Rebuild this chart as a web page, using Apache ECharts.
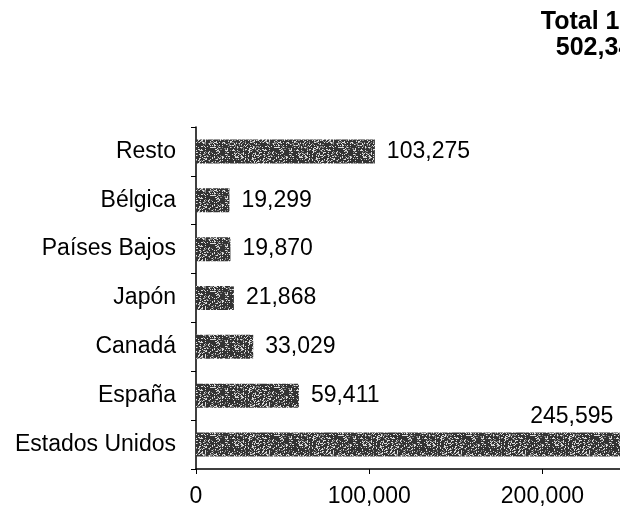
<!DOCTYPE html>
<html>
<head>
<meta charset="utf-8">
<script src="https://cdn.jsdelivr.net/npm/echarts@6/dist/echarts.min.js"></script>
<style>
  html, body { margin: 0; padding: 0; background: #fff; }
  #chart { width: 620px; height: 508px; }
</style>
</head>
<body>
<div id="chart"></div>
<script>
// datos
const categories = ['Estados Unidos', 'España', 'Canadá', 'Japón', 'Países Bajos', 'Bélgica', 'Resto'];
const values = [245595, 59411, 33029, 21868, 19870, 19299, 103275];
const xTicks = [0, 100000, 200000];
const totalLabel = 'Total 1999';
const totalValue = '502,347';

// textura gris tipo fotocopia
function makeTexture() {
  const c = document.createElement('canvas');
  c.width = 64; c.height = 24;
  const ctx = c.getContext('2d');
  ctx.fillStyle = '#333';
  ctx.fillRect(0, 0, 64, 24);
  let s = 7;
  const rnd = () => { s = (s * 16807) % 2147483647; return s / 2147483647; };
  for (let y = 0; y < 24; y++) {
    for (let x = 0; x < 64; x++) {
      const r = rnd();
      if (r < 0.18) { ctx.fillStyle = '#ddd'; ctx.fillRect(x, y, 1, 1); }
      else if (r < 0.3) { ctx.fillStyle = '#888'; ctx.fillRect(x, y, 1, 1); }
    }
  }
  return c;
}

const fmt = v => v.toLocaleString('en-US');
const chart = echarts.init(document.getElementById('chart'));
const texture = makeTexture();

chart.setOption({
  animation: false,
  textStyle: { fontFamily: 'Liberation Sans, Arial, sans-serif' },
  graphic: [{
    type: 'text',
    x: 601, y: 9,
    style: {
      text: totalLabel + '\n' + totalValue,
      textAlign: 'center',
      font: 'bold 25px "Liberation Sans", Arial, sans-serif',
      lineHeight: 26,
      fill: '#000'
    }
  }],
  grid: { left: 196, top: 127, width: 433, height: 342, outerBoundsMode: 'none' },
  xAxis: {
    type: 'value',
    min: 0, max: 250000, interval: 100000,
    axisLine: { show: true, lineStyle: { color: '#000', width: 1.5 } },
    axisTick: { show: true, length: 5, lineStyle: { color: '#000' } },
    splitLine: { show: false },
    axisLabel: {
      color: '#000', fontSize: 23, margin: 16,
      formatter: v => xTicks.includes(v) ? fmt(v) : ''
    }
  },
  yAxis: {
    type: 'category',
    data: categories,
    axisLine: { lineStyle: { color: '#000', width: 1.5 } },
    axisTick: { show: true, length: 5, lineStyle: { color: '#000' } },
    axisLabel: { color: '#000', fontSize: 23, margin: 20 }
  },
  series: [{
    type: 'bar',
    barWidth: 24,
    itemStyle: { color: { image: texture, repeat: 'repeat' } },
    label: {
      show: true, position: 'right', distance: 12,
      color: '#000', fontSize: 23,
      formatter: p => fmt(p.value)
    },
    data: values.map((v, i) => i === 0 ? {
      value: v,
      label: { position: ['100%', -4], align: 'right', verticalAlign: 'bottom', offset: [-8, 0] }
    } : v)
  }]
});
</script>
</body>
</html>
